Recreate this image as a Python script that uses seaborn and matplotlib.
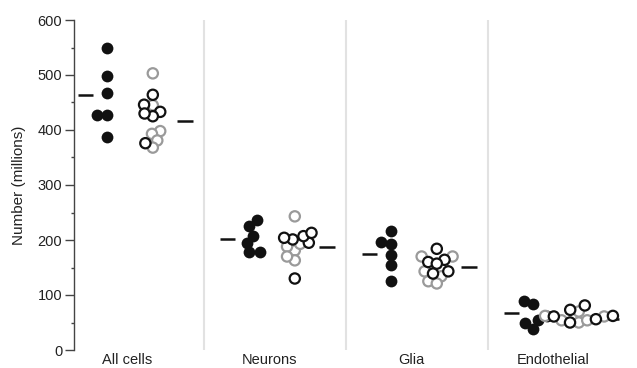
import numpy as np
import pandas as pd
import seaborn as sns
import matplotlib.pyplot as plt

groups = ['All cells', 'Neurons', 'Glia', 'Endothelial']

# filled (black) animals
filled = [[549, 499, 468, 427, 427, 387],
          [237, 225, 208, 195, 178, 178],
          [216, 196, 193, 173, 154, 125],
          [89, 83, 62, 55, 50, 39]]
# open circles, black outline
open_dark = [[464, 446, 433, 425, 430, 376],
             [201, 195, 207, 204, 213, 130],
             [184, 164, 160, 157, 143, 139],
             [81, 73, 62, 61, 56, 50]]
# open circles, gray outline
open_light = [[503, 445, 398, 393, 381, 368],
              [243, 181, 188, 193, 163, 170],
              [170, 170, 143, 134, 125, 121],
              [70, 61, 50, 54, 54, 62]]

mean_filled = [464, 201, 175, 67]
mean_open = [417, 187, 151, 56]

sns.set_theme(style='white')
plt.rcParams['font.family'] = ['Liberation Sans', 'DejaVu Sans']

rows_f = []
rows_o = []
for i, g in enumerate(groups):
    for v in filled[i]:
        rows_f.append({'pos': i - 0.18, 'value': v})
    for v in open_light[i]:
        rows_o.append({'pos': i + 0.14, 'value': v, 'tone': 'light'})
    for v in open_dark[i]:
        rows_o.append({'pos': i + 0.14, 'value': v, 'tone': 'dark'})
df_f = pd.DataFrame(rows_f)
df_o = pd.DataFrame(rows_o)

fig = plt.figure(figsize=(6.37, 3.68), dpi=100)
ax = fig.add_axes([74 / 637, 18 / 368, 1 - 74 / 637, 330 / 368])

for b in [0.5, 1.5, 2.5]:
    ax.axvline(b, color='#e2e2e2', lw=1.5, zorder=0)

# swarm with smaller markers so the final points overlap a bit, like the original
sns.swarmplot(data=df_f, x='pos', y='value', native_scale=True, orient='x',
              color='#111111', size=7, linewidth=0, ax=ax, warn_thresh=1)
n_filled = len(ax.collections)
sns.swarmplot(data=df_o, x='pos', y='value', hue='tone', native_scale=True, orient='x',
              palette={'dark': '#111111', 'light': '#9a9a9a'}, size=6, linewidth=0,
              legend=False, ax=ax, warn_thresh=1)

ax.set_xlim(-0.415, 3.55)
ax.set_ylim(0, 600)
fig.canvas.draw()

# freeze swarm positions, then enlarge markers
for coll in ax.collections:
    if 'draw' in coll.__dict__:
        del coll.__dict__['draw']
for coll in ax.collections[:n_filled]:
    coll.set_sizes([8.5 ** 2])
for coll in ax.collections[n_filled:]:
    fc = coll.get_facecolors()
    coll.set_edgecolors(fc)
    coll.set_facecolors('white')
    coll.set_linewidths(1.6)
    coll.set_sizes([7.4 ** 2])

x = np.arange(len(groups))
ax.hlines(mean_filled, x - 0.39, x - 0.28, color='#111111', lw=1.8)
ax.hlines(mean_open, x + 0.31, x + 0.42, color='#111111', lw=1.8)

ax.set_xticks(x - 0.04)
ax.set_xticklabels(groups)
ax.set_yticks(np.arange(0, 601, 100))
ax.set_yticks(np.arange(50, 600, 100), minor=True)
ax.set_xlabel('')
ax.set_ylabel('Number (millions)', fontsize=11, color='#222222', labelpad=8)

for s in ['top', 'right', 'bottom']:
    ax.spines[s].set_visible(False)
ax.spines['left'].set_color('#444444')
ax.spines['left'].set_linewidth(1)
ax.tick_params(axis='y', which='major', left=True, direction='out', length=6.5,
               width=1, color='#444444', labelsize=10.5, labelcolor='#222222', pad=2)
ax.tick_params(axis='y', which='minor', left=True, direction='out', length=2.5,
               width=1, color='#444444')
ax.tick_params(axis='x', length=0, labelsize=10.5, labelcolor='#222222', pad=2)

fig.savefig('out.png', dpi=100)
